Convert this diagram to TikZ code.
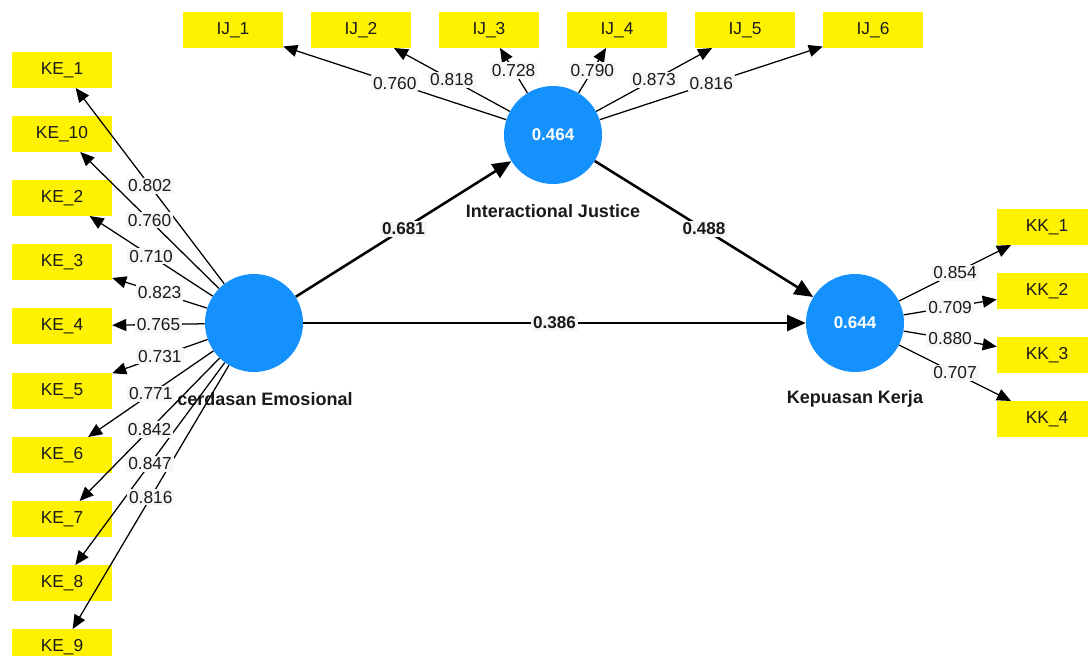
\documentclass[tikz,border=0pt]{standalone}
\usepackage{fontspec}
\setmainfont{Liberation Sans}
\usetikzlibrary{arrows.meta}
\definecolor{lvblue}{HTML}{1591FE}
\definecolor{lblgray}{HTML}{F7F7F7}
\definecolor{txtgray}{HTML}{1A1A1A}

\begin{document}
\begin{tikzpicture}[x=0.75pt,y=-0.75pt,
  ind/.style={fill=yellow,minimum width=75pt,minimum height=26.6pt,inner sep=0pt,
    text=txtgray,font=\fontsize{13}{14}\selectfont},
  lv/.style={circle,fill=lvblue,minimum size=73.5pt,inner sep=0pt,text=white,
    font=\bfseries\fontsize{12.7}{14}\selectfont},
  lvname/.style={text=txtgray,font=\bfseries\fontsize{13.5}{15}\selectfont},
  ld/.style={line width=0.95pt,-{Triangle[length=10.5pt,width=9pt]}},
  inner/.style={line width=1.9pt,-{Triangle[length=14pt,width=12pt]}},
  lbl/.style={midway,fill=lblgray,inner sep=1.5pt,text=txtgray,
    font=\fontsize{13}{14}\selectfont},
  blbl/.style={lbl,font=\bfseries\fontsize{12.8}{14}\selectfont}]
  \useasboundingbox (0,0) rectangle (1088,656);

  % latent variables
  \node[lv] (ke) at (254,323) {};
  \node[lv] (ij) at (553,135) {0.464};
  \node[lv] (kk) at (855,323) {0.644};
  \node[lvname] (kename) at (265,399) {cerdasan Emosional};
  \node[lvname] (ijname) at (553,211) {Interactional Justice};
  \node[lvname] (kkname) at (855,399) {Kepuasan Kerja};

  % indicators
  \node[ind] (ke1)  at (62,70)  {KE\_1};
  \node[ind] (ke10) at (62,134) {KE\_10};
  \node[ind] (ke2)  at (62,198) {KE\_2};
  \node[ind] (ke3)  at (62,262) {KE\_3};
  \node[ind] (ke4)  at (62,326) {KE\_4};
  \node[ind] (ke5)  at (62,391) {KE\_5};
  \node[ind] (ke6)  at (62,455) {KE\_6};
  \node[ind] (ke7)  at (62,519) {KE\_7};
  \node[ind] (ke8)  at (62,583) {KE\_8};
  \node[ind] (ke9)  at (62,647) {KE\_9};
  \node[ind] (ij1) at (233,30) {IJ\_1};
  \node[ind] (ij2) at (361,30) {IJ\_2};
  \node[ind] (ij3) at (489,30) {IJ\_3};
  \node[ind] (ij4) at (617,30) {IJ\_4};
  \node[ind] (ij5) at (745,30) {IJ\_5};
  \node[ind] (ij6) at (873,30) {IJ\_6};
  \node[ind] (kk1) at (1047,227) {KK\_1};
  \node[ind] (kk2) at (1047,291) {KK\_2};
  \node[ind] (kk3) at (1047,355) {KK\_3};
  \node[ind] (kk4) at (1047,419) {KK\_4};

  % loadings (lines first, labels on top)
  \draw[ld] (ke) -- (ke1);  \draw[ld] (ke) -- (ke10);
  \draw[ld] (ke) -- (ke2);  \draw[ld] (ke) -- (ke3);
  \draw[ld] (ke) -- (ke4);  \draw[ld] (ke) -- (ke5);
  \draw[ld] (ke) -- (ke6);  \draw[ld] (ke) -- (ke7);
  \draw[ld] (ke) -- (ke8);  \draw[ld] (ke) -- (ke9);
  \draw[ld] (ij) -- (ij1);  \draw[ld] (ij) -- (ij2);
  \draw[ld] (ij) -- (ij3);  \draw[ld] (ij) -- (ij4);
  \draw[ld] (ij) -- (ij5);  \draw[ld] (ij) -- (ij6);
  \draw[ld] (kk) -- (kk1);  \draw[ld] (kk) -- (kk2);
  \draw[ld] (kk) -- (kk3);  \draw[ld] (kk) -- (kk4);

  % path coefficients
  \draw[inner] (ke) -- (ij);
  \draw[inner] (ij) -- (kk);
  \draw[inner] (ke) -- (kk);

  \path (ke) -- (ke1)  node[lbl] {0.802};
  \path (ke) -- (ke10) node[lbl] {0.760};
  \path (ke) -- (ke2)  node[lbl] {0.710};
  \path (ke) -- (ke3)  node[lbl] {0.823};
  \path (ke) -- (ke4)  node[lbl] {0.765};
  \path (ke) -- (ke5)  node[lbl] {0.731};
  \path (ke) -- (ke6)  node[lbl] {0.771};
  \path (ke) -- (ke7)  node[lbl] {0.842};
  \path (ke) -- (ke8)  node[lbl] {0.847};
  \path (ke) -- (ke9)  node[lbl] {0.816};
  \path (ij) -- (ij1) node[lbl] {0.760};
  \path (ij) -- (ij2) node[lbl] {0.818};
  \path (ij) -- (ij3) node[lbl] {0.728};
  \path (ij) -- (ij4) node[lbl] {0.790};
  \path (ij) -- (ij5) node[lbl] {0.873};
  \path (ij) -- (ij6) node[lbl] {0.816};
  \path (kk) -- (kk1) node[lbl] {0.854};
  \path (kk) -- (kk2) node[lbl] {0.709};
  \path (kk) -- (kk3) node[lbl] {0.880};
  \path (kk) -- (kk4) node[lbl] {0.707};
  \path (ke) -- (ij) node[blbl] {0.681};
  \path (ij) -- (kk) node[blbl] {0.488};
  \path (ke) -- (kk) node[blbl] {0.386};
\end{tikzpicture}
\end{document}
